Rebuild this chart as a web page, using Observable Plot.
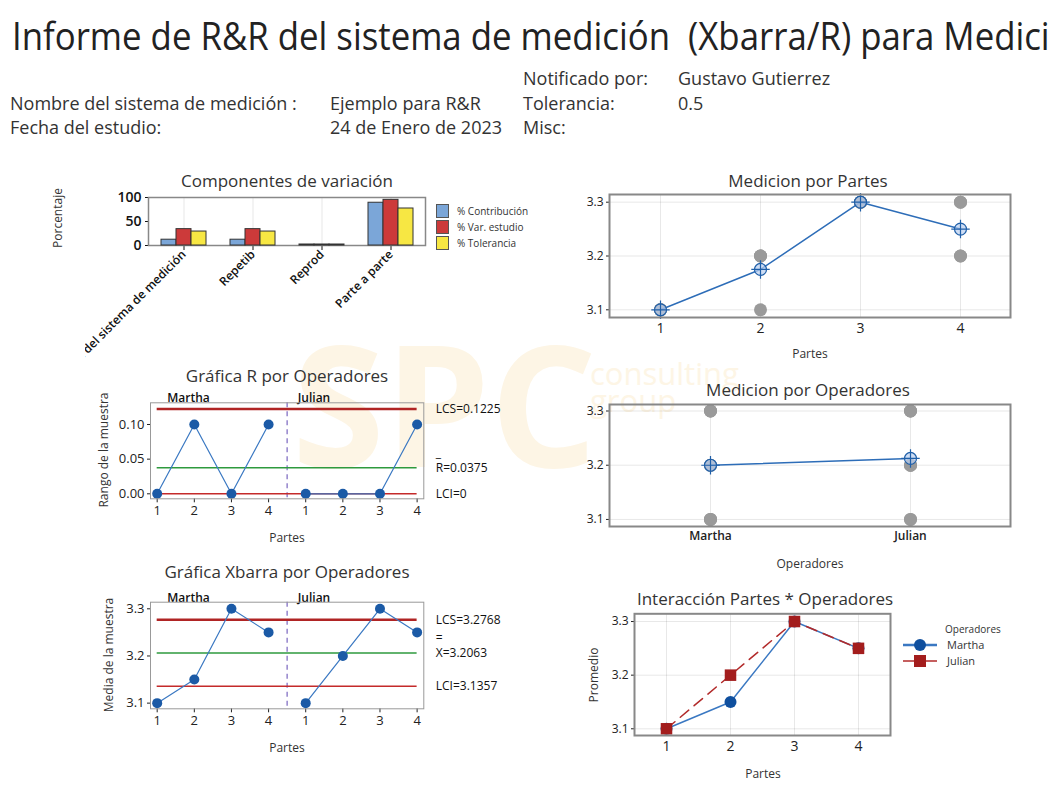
<!DOCTYPE html>
<html><head><meta charset="utf-8">
<script src="https://cdn.jsdelivr.net/npm/d3@7"></script>
<script src="https://cdn.jsdelivr.net/npm/@observablehq/plot@0.6"></script>
<style>
body{margin:0;background:#fff;}
#root{position:relative;width:1049px;height:785px;overflow:hidden;font-family:"Open Sans",sans-serif;color:#222;background:#fff;}
.abs{position:absolute;}
.ttl{position:absolute;font-size:17px;color:#333;white-space:nowrap;transform:translate(-50%,-50%);}
.axl{position:absolute;font-size:12px;color:#333;white-space:nowrap;transform:translate(-50%,-50%);}
.yl{transform:translate(-50%,-50%) rotate(-90deg);}
.info{position:absolute;font-size:18px;color:#333;white-space:nowrap;transform:translateY(-50%) scaleX(1.0);transform-origin:left center;}
.wm{position:absolute;color:#fdf5e5;white-space:nowrap;line-height:1;}
.p-comp [aria-label^="y-axis"] text{font-size:14px;font-weight:600;}
.p-comp [aria-label^="x-axis"] text{font-size:12px;font-weight:600;}
.p-med [aria-label^="x-axis"] text{font-size:14px;}
.p-med [aria-label^="y-axis"] text{font-size:12px;}
.p-op [aria-label^="x-axis"] text{font-size:12px;font-weight:600;}
.p-op [aria-label^="y-axis"] text{font-size:12px;}
.p-ctl [aria-label^="x-axis"] text{font-size:13px;}
.p-ctl [aria-label^="y-axis"] text{font-size:13px;}
.leg{position:absolute;font-size:10px;color:#333;white-space:nowrap;}
</style>
</head><body>
<div id="root">
  <div class="wm" style="left:292px;top:318px;font-size:168px;font-weight:700;">SPC</div>
  <div class="wm" style="left:590px;top:358px;font-size:31px;">consulting</div>
  <div class="wm" style="left:590px;top:385px;font-size:31px;">group</div>

  <div class="abs" style="left:12px;top:9px;font-size:38px;color:#222;white-space:nowrap;transform:scaleX(0.915);transform-origin:left top;">Informe de R&amp;R del sistema de medición&nbsp; (Xbarra/R) para Medición</div>
  <div class="info" style="left:523px;top:78px;">Notificado por:</div>
  <div class="info" style="left:678px;top:78px;">Gustavo Gutierrez</div>
  <div class="info" style="left:10px;top:103px;">Nombre del sistema de medición :</div>
  <div class="info" style="left:330px;top:103px;">Ejemplo para R&amp;R</div>
  <div class="info" style="left:523px;top:103px;">Tolerancia:</div>
  <div class="info" style="left:678px;top:103px;">0.5</div>
  <div class="info" style="left:10px;top:127px;">Fecha del estudio:</div>
  <div class="info" style="left:330px;top:127px;">24 de Enero de 2023</div>
  <div class="info" style="left:523px;top:127px;">Misc:</div>

  <div class="ttl" style="left:287px;top:180px;">Componentes de variación</div>
  <div class="ttl" style="left:808px;top:180px;">Medicion por Partes</div>
  <div class="ttl" style="left:287px;top:375px;">Gráfica R por Operadores</div>
  <div class="ttl" style="left:808px;top:389px;">Medicion por Operadores</div>
  <div class="ttl" style="left:287px;top:571px;">Gráfica Xbarra por Operadores</div>
  <div class="ttl" style="left:765px;top:598px;">Interacción Partes * Operadores</div>

  <div class="axl yl" style="left:57px;top:218px;">Porcentaje</div>
  <div class="axl yl" style="left:103px;top:450px;">Rango de la muestra</div>
  <div class="axl yl" style="left:108px;top:655px;">Media de la muestra</div>
  <div class="axl yl" style="left:593px;top:675px;">Promedio</div>
  <div class="axl" style="left:810px;top:353px;">Partes</div>
  <div class="axl" style="left:810px;top:563px;">Operadores</div>
  <div class="axl" style="left:287px;top:537px;">Partes</div>
  <div class="axl" style="left:287px;top:747px;">Partes</div>
  <div class="axl" style="left:763px;top:773px;">Partes</div>
</div>
<script>
// ---------- data ----------
const componentes = ["R&R del sistema de medición", "Repetib", "Reprod", "Parte a parte"];
const pctContribucion = [10, 10, 0, 87];
const pctVarEstudio = [32, 32, 0, 93];
const pctTolerancia = [27, 27, 0, 75];
const seriesComp = ["% Contribución", "% Var. estudio", "% Tolerancia"];

const partes = [1, 2, 3, 4];
const operadores = ["Martha", "Julian"];
const medicionesMartha = [[3.1, 3.1], [3.1, 3.2], [3.3, 3.3], [3.2, 3.3]];
const medicionesJulian = [[3.1, 3.1], [3.2, 3.2], [3.3, 3.3], [3.2, 3.3]];
const mediaPartes = [3.1, 3.175, 3.3, 3.25];
const mediaOperadores = [3.2, 3.2125];
const mediasMartha = [3.1, 3.15, 3.3, 3.25];
const mediasJulian = [3.1, 3.2, 3.3, 3.25];
const rangosMartha = [0, 0.1, 0, 0.1];
const rangosJulian = [0, 0, 0, 0.1];
const limitesR = [0.1225, 0.0375, 0];
const etiquetasR = ["LCS=0.1225", "R=0.0375", "LCI=0"];
const limitesX = [3.2768, 3.2063, 3.1357];
const etiquetasX = ["LCS=3.2768", "X=3.2063", "LCI=3.1357"];

// ---------- helpers ----------
const root = document.getElementById("root");
function place(el, left, top, cls) {
  const d = document.createElement("div");
  d.className = "abs " + (cls || "");
  d.style.left = left + "px"; d.style.top = top + "px";
  d.appendChild(el);
  root.appendChild(d);
  return d;
}
const baseStyle = {fontFamily: "Open Sans", fontSize: "12px", color: "#222", background: "transparent", overflow: "visible"};
const BLUE = "#1b5aa6", LINEBLUE = "#3a78c2", RED = "#a31d1d", GRAY = "#9a9a9a";

// ---------- Componentes de variación ----------
const compRows = componentes.map((c, i) => ({comp: c, a: pctContribucion[i], b: pctVarEstudio[i], c: pctTolerancia[i]}));
const ins = 27;
const barOpts = {stroke: "#333", strokeWidth: 1, insetLeft: ins, insetRight: ins, insetTop: -1};
const compPlot = Plot.plot({
  width: 470, height: 200, marginLeft: 63, marginRight: 130, marginTop: 37, marginBottom: 115,
  style: {...baseStyle, overflow: "hidden", color: "#111"},
  x: {domain: componentes, padding: 0, tickRotate: -45, label: null, tickSize: 5, tickPadding: 2, grid: true},
  y: {domain: [0, 100], ticks: [0, 50, 100], label: null, tickSize: 3, tickPadding: 4},
  marks: [
    Plot.frame({stroke: "#888", strokeWidth: 1.5}),
    Plot.barY(compRows, {x: "comp", y: "a", fill: "#7ba6d8", ...barOpts, dx: -15}),
    Plot.barY(compRows, {x: "comp", y: "b", fill: "#cc3a3a", ...barOpts}),
    Plot.barY(compRows, {x: "comp", y: "c", fill: "#f7e743", ...barOpts, dx: 15})
  ]
});
place(compPlot, 85, 160, "p-comp");
const legColors = ["#7ba6d8", "#cc3a3a", "#f7e743"];
seriesComp.forEach((s, i) => {
  const d = document.createElement("div");
  d.className = "leg";
  d.style.left = "436px"; d.style.top = (203 + i * 16) + "px";
  d.innerHTML = `<span style="display:inline-block;width:11px;height:12px;background:${legColors[i]};border:1px solid #555;vertical-align:middle;"></span><span style="margin-left:8px;vertical-align:middle;">${s}</span>`;
  root.appendChild(d);
});

// ---------- Medicion por Partes ----------
const indivPartes = [];
partes.forEach((p, i) => { [...medicionesMartha[i], ...medicionesJulian[i]].forEach(v => indivPartes.push({x: p, v})); });
const mediaPartesRows = partes.map((p, i) => ({x: p, v: mediaPartes[i]}));
const medPlot = Plot.plot({
  width: 480, height: 170, marginLeft: 49, marginRight: 30, marginTop: 19, marginBottom: 28,
  style: baseStyle,
  x: {type: "point", domain: partes, padding: 0.5, grid: true, label: null, tickSize: 0, tickPadding: 6},
  y: {domain: [3.0857, 3.3143], ticks: [3.1, 3.2, 3.3], tickFormat: ".1f", grid: true, label: null, tickSize: 3, tickPadding: 3},
  marks: [
    Plot.dot(indivPartes, {x: "x", y: "v", r: 6.5, fill: GRAY}),
    Plot.line(mediaPartesRows, {x: "x", y: "v", stroke: "#2d6db8", strokeWidth: 1.5}),
    Plot.dot(mediaPartesRows, {x: "x", y: "v", r: 6, fill: "#b9cff0", fillOpacity: 0.7, stroke: "#1f5fa8", strokeWidth: 1.2}),
    Plot.dot(mediaPartesRows, {x: "x", y: "v", r: 6, symbol: "plus", stroke: "#1f5fa8", strokeWidth: 1.2}),
    Plot.frame({stroke: "#888", strokeWidth: 2})
  ]
});
place(medPlot, 560, 175, "p-med");

// ---------- Medicion por Operadores ----------
const indivOp = [];
operadores.forEach((o, k) => {
  const m = k === 0 ? medicionesMartha : medicionesJulian;
  m.forEach(pair => pair.forEach(v => indivOp.push({x: o, v})));
});
const mediaOpRows = operadores.map((o, i) => ({x: o, v: mediaOperadores[i]}));
const opPlot = Plot.plot({
  width: 480, height: 165, marginLeft: 49, marginRight: 30, marginTop: 19, marginBottom: 24,
  style: baseStyle,
  x: {type: "point", domain: operadores, padding: 0.5, grid: true, label: null, tickSize: 0, tickPadding: 5},
  y: {domain: [3.087, 3.312], ticks: [3.1, 3.2, 3.3], tickFormat: ".1f", grid: true, label: null, tickSize: 3, tickPadding: 3},
  marks: [
    Plot.dot(indivOp, {x: "x", y: "v", r: 6.5, fill: GRAY}),
    Plot.line(mediaOpRows, {x: "x", y: "v", stroke: "#2d6db8", strokeWidth: 1.5}),
    Plot.dot(mediaOpRows, {x: "x", y: "v", r: 6, fill: "#b9cff0", fillOpacity: 0.7, stroke: "#1f5fa8", strokeWidth: 1.2}),
    Plot.dot(mediaOpRows, {x: "x", y: "v", r: 6, symbol: "plus", stroke: "#1f5fa8", strokeWidth: 1.2}),
    Plot.frame({stroke: "#888", strokeWidth: 2})
  ]
});
place(opPlot, 560, 385, "p-op");

// ---------- Control charts (R and Xbar) ----------
function controlRows(a, b) {
  const rows = [];
  a.forEach((v, i) => rows.push({idx: rows.length + 1, parte: partes[i], op: operadores[0], v}));
  b.forEach((v, i) => rows.push({idx: rows.length + 1, parte: partes[i], op: operadores[1], v}));
  return rows;
}
function controlChart(rows, limits, labels, yDomain, yTicks, yFmt, top, height, marginTop, marksAbove) {
  const first = rows[0].idx, last = rows[rows.length - 1].idx;
  const split = (rows[partes.length - 1].idx + rows[partes.length].idx) / 2;
  const limRows = limits.map((y, i) => ({y, x1: first, x2: last, t: labels[i], k: i}));
  const p = Plot.plot({
    width: 460, height, marginLeft: 65, marginRight: 121.7, marginTop, marginBottom: 21.7,
    style: baseStyle,
    x: {type: "linear", domain: [first - 0.18, last + 0.18], ticks: rows.map(r => r.idx), tickFormat: i => rows[i - 1].parte, label: null, tickSize: 4, tickPadding: 3},
    y: {domain: yDomain, ticks: yTicks, tickFormat: yFmt, label: null, tickSize: 3, tickPadding: 3},
    marks: [
      Plot.ruleX([split], {stroke: "#9484cc", strokeWidth: 1.5, strokeDasharray: "5,4"}),
      Plot.ruleY([limRows[0]], {y: "y", x1: "x1", x2: "x2", stroke: "#b02424", strokeWidth: 2.5}),
      Plot.ruleY([limRows[1]], {y: "y", x1: "x1", x2: "x2", stroke: "#2e9a3e", strokeWidth: 1.5}),
      Plot.ruleY([limRows[2]], {y: "y", x1: "x1", x2: "x2", stroke: "#c42a2a", strokeWidth: 1.5}),
      Plot.line(rows.slice(0, partes.length), {x: "idx", y: "v", stroke: LINEBLUE, strokeWidth: 1.2}),
      Plot.line(rows.slice(partes.length), {x: "idx", y: "v", stroke: LINEBLUE, strokeWidth: 1.2}),
      Plot.dot(rows, {x: "idx", y: "v", r: 5, fill: BLUE}),
      Plot.text(limRows, {y: "y", text: "t", frameAnchor: "right", dx: 12, textAnchor: "start", fontSize: 12, fill: "#111"}),
      Plot.text([limRows[1]], {y: "y", text: () => marksAbove, frameAnchor: "right", dx: 12, dy: -15, textAnchor: "start", fontSize: 12, fill: "#111"}),
      Plot.text([rows[0]], {x: "idx", text: "op", frameAnchor: "top", dy: -9, dx: 10, textAnchor: "start", fontSize: 12, fontWeight: 600, fill: "#111"}),
      Plot.text([rows[partes.length]], {x: "idx", text: "op", frameAnchor: "top", dy: -9, dx: -8, textAnchor: "start", fontSize: 12, fontWeight: 600, fill: "#111"}),
      Plot.frame({stroke: "#999", strokeWidth: 1})
    ]
  });
  place(p, 85, top, "p-ctl");
}
controlChart(controlRows(rangosMartha, rangosJulian), limitesR, etiquetasR, [-0.0072, 0.1313], [0, 0.05, 0.1], ".2f", 385, 135, 17.3, "_");
controlChart(controlRows(mediasMartha, mediasJulian), limitesX, etiquetasX, [3.088, 3.314], [3.1, 3.2, 3.3], ".1f", 585, 145, 16.7, "=");

// ---------- Interacción ----------
const intMartha = partes.map((p, i) => ({x: p, v: mediasMartha[i]}));
const intJulian = partes.map((p, i) => ({x: p, v: mediasJulian[i]}));
const intPlot = Plot.plot({
  width: 340, height: 165, marginLeft: 74, marginRight: 10, marginTop: 18.3, marginBottom: 25,
  style: baseStyle,
  x: {type: "point", domain: partes, padding: 0.5, grid: true, label: null, tickSize: 0, tickPadding: 6},
  y: {domain: [3.0875, 3.3144], ticks: [3.1, 3.2, 3.3], tickFormat: ".1f", grid: true, label: null, tickSize: 3, tickPadding: 3},
  marks: [
    Plot.line(intMartha, {x: "x", y: "v", stroke: LINEBLUE, strokeWidth: 1.5}),
    Plot.dot(intMartha, {x: "x", y: "v", r: 6, fill: "#0f4f9e"}),
    Plot.line(intJulian, {x: "x", y: "v", stroke: "#b22a2a", strokeWidth: 1.5, strokeDasharray: "11,7"}),
    Plot.dot(intJulian, {x: "x", y: "v", r: 6.5, symbol: "square", fill: RED}),
    Plot.frame({stroke: "#888", strokeWidth: 2})
  ]
});
place(intPlot, 560, 595, "p-med");
// legend
const lg = document.createElement("div");
lg.className = "leg";
lg.style.left = "903px"; lg.style.top = "622px";
lg.innerHTML = `<div style="margin-left:42px;height:14px;line-height:14px;">Operadores</div>
<div style="height:16px;line-height:16px;font-size:11px;"><svg width="36" height="16" style="vertical-align:middle"><line x1="0" y1="8" x2="34" y2="8" stroke="${LINEBLUE}" stroke-width="2.5"/><circle cx="17" cy="8" r="6" fill="#0f4f9e"/></svg><span style="margin-left:8px;vertical-align:middle;">${operadores[0]}</span></div>
<div style="height:16px;line-height:16px;font-size:11px;"><svg width="36" height="16" style="vertical-align:middle"><line x1="0" y1="8" x2="34" y2="8" stroke="#b22a2a" stroke-width="1.5"/><rect x="11" y="2" width="12" height="12" fill="${RED}"/></svg><span style="margin-left:8px;vertical-align:middle;">${operadores[1]}</span></div>`;
root.appendChild(lg);
</script>
</body></html>
